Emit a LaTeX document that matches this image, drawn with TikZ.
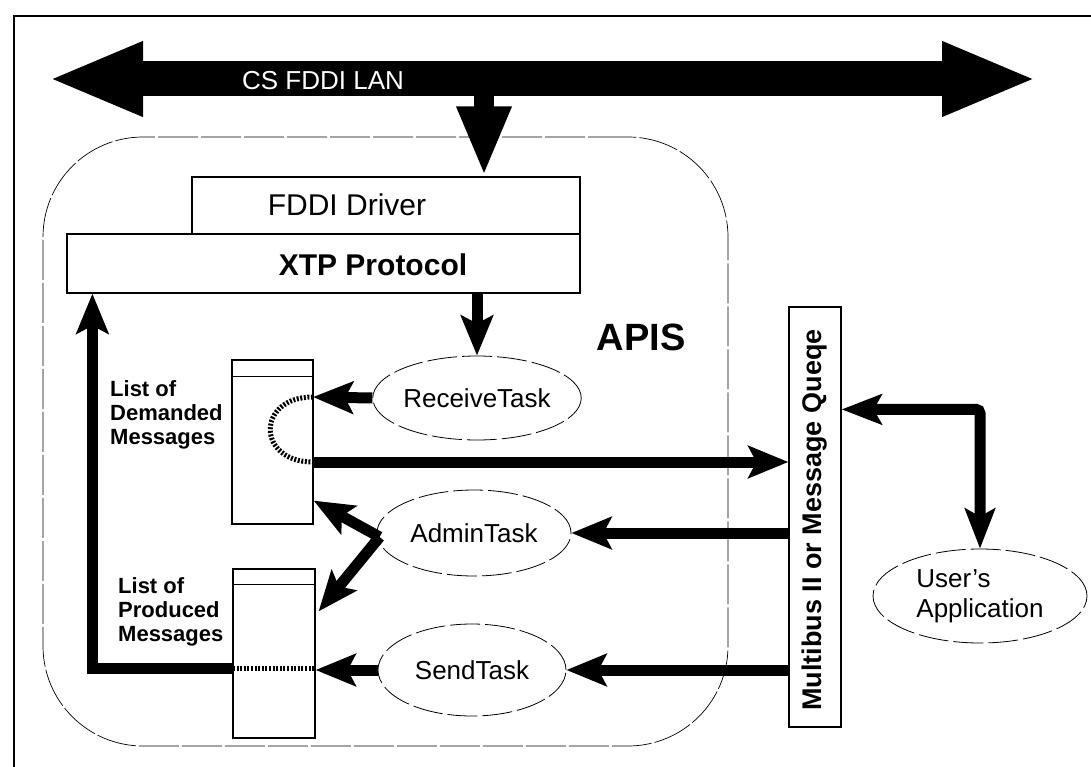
\documentclass[tikz,border=0pt]{standalone}
\usepackage{fontspec}
\setmainfont{Liberation Sans}
\usetikzlibrary{arrows.meta,shapes.geometric,calc}

\begin{document}
\begin{tikzpicture}[x=1pt,y=-1pt,
  frameline/.style={line width=2pt},
  apisbox/.style={draw, line width=0.7pt, dash pattern=on 40pt off 3pt,
    rounded corners=100pt, inner sep=0pt},
  layerbox/.style={draw, line width=1.2pt, inner sep=0pt, fill=white},
  listbox/.style={draw, line width=1.2pt, inner sep=0pt},
  task/.style={draw, ellipse, line width=0.8pt, dash pattern=on 30pt off 5pt,
    inner sep=0pt, font=\fontsize{26}{28}\selectfont},
  listlabel/.style={font=\bfseries\fontsize{22}{24}\selectfont, align=left,
    inner sep=0pt, anchor=north west},
  flow/.style={line width=11pt, -{Stealth[length=40pt,width=32pt,inset=8pt]}},
  twoway/.style={line width=11pt, rounded corners=4pt,
    {Stealth[length=40pt,width=30pt,inset=8pt]}-{Stealth[length=40pt,width=30pt,inset=8pt]}},
  dotline/.style={line width=5pt, dash pattern=on 2pt off 1.6pt},
]
\useasboundingbox (0,0) rectangle (1091,767);

% outer frame
\draw[frameline] (14,767) -- (14,16) -- (1091,16);

% LAN bus
\coordinate (lanL) at (48,79);
\coordinate (lanR) at (1037,79);
\coordinate (lanC) at (484,79);
\draw[line width=35pt, {Triangle[length=95pt,width=68pt]}-{Triangle[length=95pt,width=68pt]}]
  (lanL) -- (lanR);
\node[font=\fontsize{26}{28}\selectfont, text=white, anchor=base, inner sep=0pt]
  (lantext) at (323,90) {CS FDDI LAN};

% APIS container
\node[apisbox, minimum width=685pt, minimum height=609pt] (apis) at (385.5,441.5) {};
\node[font=\bfseries\fontsize{38}{40}\selectfont, anchor=base, inner sep=0pt]
  (apistext) at (641,350) {APIS};

% protocol layers
\node[layerbox, minimum width=388pt, minimum height=57pt] (fddi) at (386,205.5) {};
\node[layerbox, minimum width=513pt, minimum height=59pt] (xtp) at (323.5,263.5) {};
\node[font=\fontsize{30}{32}\selectfont, anchor=base, inner sep=0pt]
  (fdditext) at (347,216) {FDDI Driver};
\node[font=\bfseries\fontsize{30}{32}\selectfont, anchor=base, inner sep=0pt]
  (xtptext) at (373,275) {XTP Protocol};

\draw[line width=20pt, -{Triangle[length=70pt,width=50pt]}] (lanC) -- (lanC |- fddi.north);

% message lists
\node[listbox, minimum width=81pt, minimum height=164pt] (dem) at (272.5,442) {};
\draw[line width=1.2pt] ([yshift=-17pt]dem.north west) -- ([yshift=-17pt]dem.north east);
\node[listbox, minimum width=82pt, minimum height=169pt] (prod) at (274,653.5) {};
\draw[line width=1.2pt] ([yshift=-16pt]prod.north west) -- ([yshift=-16pt]prod.north east);

\node[listlabel] (demlbl) at (110,380) {List of\\Demanded\\Messages};
\node[listlabel] (prodlbl) at (118,577) {List of\\Produced\\Messages};

% tasks
\node[task, minimum width=190pt, minimum height=84pt] (recv) at (477,398) {ReceiveTask};
\node[task, minimum width=194pt, minimum height=86pt] (admin) at (474,533) {AdminTask};
\node[task, minimum width=188pt, minimum height=92pt] (send) at (472,670) {SendTask};

% bus / queue
\node[draw, line width=1.2pt, minimum width=52pt, minimum height=420pt, inner sep=0pt]
  (mb) at (815,517) {};
\node[rotate=90, font=\bfseries\fontsize{27}{29}\selectfont, inner sep=0pt]
  (mbtext) at (815,520) {Multibus II or Message Queqe};

% user application
\node[task, minimum width=214pt, minimum height=94pt, align=left,
  font=\fontsize{26}{30}\selectfont] (user) at (980,596) {User's\\Application};

% list internals
\coordinate (dTop) at (313,397);
\coordinate (dBot) at (313,462);
\coordinate (pDot) at (233,668);
\draw[dotline] (dTop) .. controls ([xshift=-57pt]dTop) and ([xshift=-57pt]dBot) .. (dBot);
\draw[dotline] (pDot) -- (pDot -| prod.east);

% flows
\draw[flow] (recv.north |- xtp.south) -- (recv.north);
\draw[flow] (recv.west) -- (dTop);
\draw[flow] (dBot) -- (dBot -| mb.west);
\draw[flow] (mb.west |- admin.east) -- (admin.east);
\draw[flow] (mb.west |- send.east) -- (send.east);
\draw[flow] (send.west) -- (send.west -| prod.east);
\draw[flow] ([xshift=3pt,yshift=-4pt]admin.west) -- ([yshift=24pt]dem.south east);
\draw[flow] ([xshift=3pt,yshift=-4pt]admin.west) -- ([xshift=3pt,yshift=-43pt]prod.north east);
\draw[line width=11pt, -{Stealth[length=40pt,width=32pt,inset=8pt]}]
  (pDot) -| ([xshift=26pt]xtp.south west);
\draw[twoway] ([yshift=-103pt]mb.north east) -| (user.north);

\end{tikzpicture}
\end{document}
